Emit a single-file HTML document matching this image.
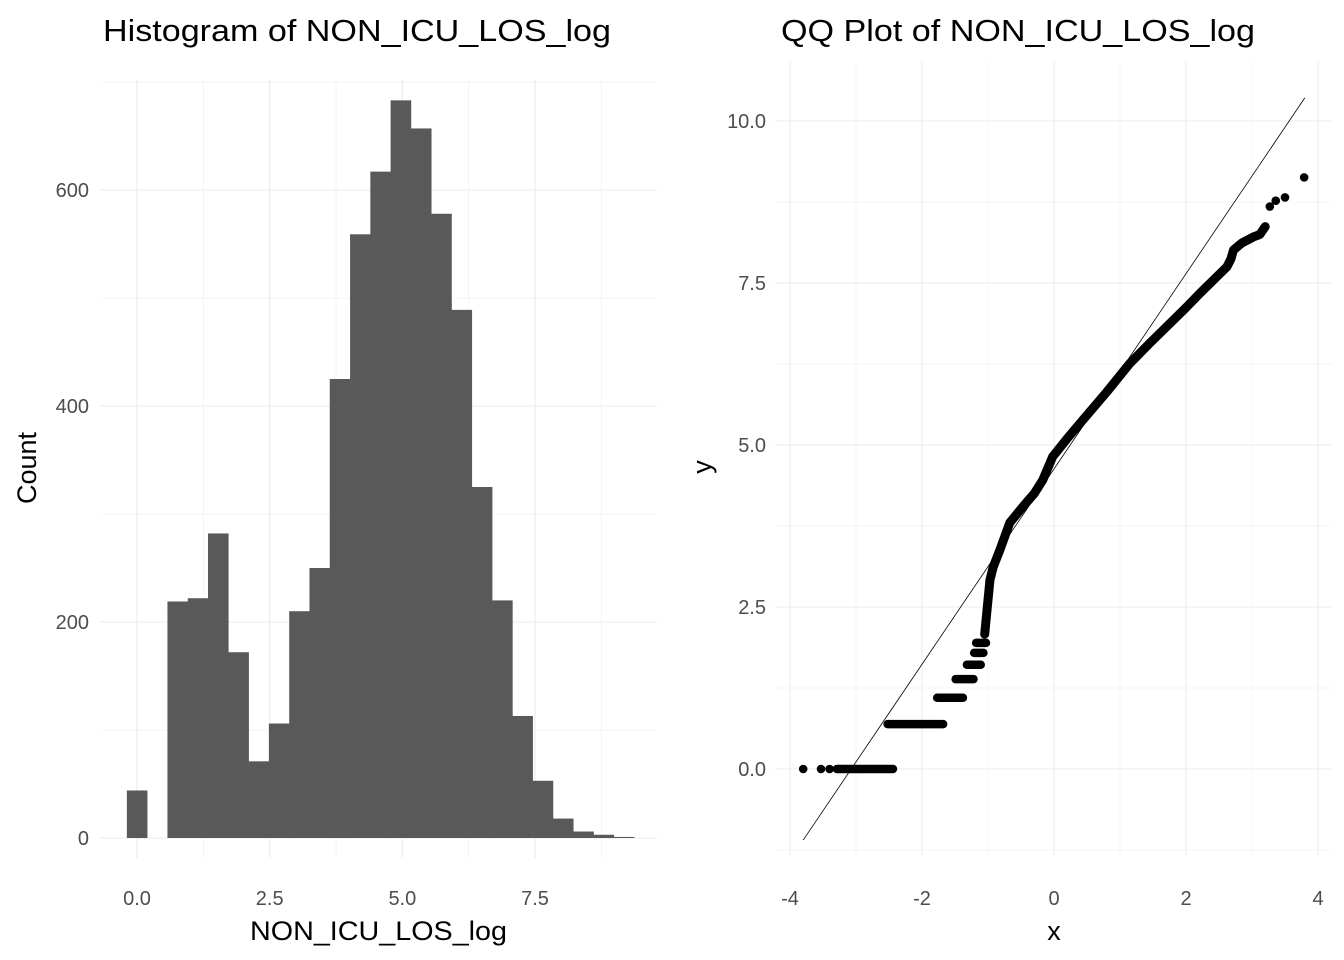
<!DOCTYPE html>
<html><head><meta charset="utf-8"><style>
body{margin:0;background:#fff;}
svg{display:block;font-family:"Liberation Sans",sans-serif;}
</style></head><body>
<svg id="c" width="1344" height="960" viewBox="0 0 1344 960">
<rect width="1344" height="960" fill="#fff"/>
<g id="h"></g><g id="q"></g>
</svg>
<script>
// Histogram data
const histCenters = [0,0.382,0.765,1.147,1.529,1.912,2.294,2.676,3.059,3.441,3.823,4.206,4.588,4.970,5.353,5.735,6.117,6.500,6.882,7.264,7.647,8.029,8.411,8.794,9.176];
const histCounts = [44,0,219,222,282,172,71,106,210,250,425,559,617,683,657,578,489,325,220,113,53,18,6,3,1];
const histBinWidth = 0.3823;
const histXTicks = [0,2.5,5,7.5];
const histXTickLabels = ["0.0","2.5","5.0","7.5"];
const histYTicks = [0,200,400,600];
// QQ data: tied runs (discrete values)
const runStartX = [-3.29,-2.52,-1.77,-1.49,-1.32,-1.21,-1.18];
const runEndX   = [-2.44,-1.68,-1.38,-1.22,-1.11,-1.07,-1.03];
const runY      = [0,0.693,1.099,1.386,1.609,1.792,1.946];
// QQ data: isolated points
const isoX = [-3.8,-3.53,-3.4,3.27,3.36,3.50,3.79];
const isoY = [0,0,0,8.68,8.77,8.82,9.13];
// QQ data: continuous sample quantiles
const qqX = [-1.05,-1.02,-0.97,-0.92,-0.82,-0.67,-0.47,-0.3,-0.17,-0.02,0.2,0.44,0.8,1.15,1.45,1.71,2.0,2.21,2.45,2.62,2.68,2.72,2.85,3.02,3.12,3.20];
const qqY = [2.08,2.40,2.92,3.12,3.38,3.80,4.05,4.25,4.46,4.82,5.1,5.39,5.82,6.26,6.57,6.83,7.12,7.34,7.58,7.75,7.87,8.01,8.12,8.21,8.25,8.37];
const qqXTicks = [-4,-2,0,2,4];
const qqYTicks = [0,2.5,5,7.5,10];
const qqYTickLabels = ["0.0","2.5","5.0","7.5","10.0"];
const qqLineSlope = 1.507, qqLineIntercept = 4.63;

const NS="http://www.w3.org/2000/svg";
function mk(p,t,a,txt){const e=document.createElementNS(NS,t);for(const k in a)e.setAttribute(k,a[k]);if(txt!==undefined)e.textContent=txt;p.appendChild(e);return e;}
const TICK={'font-size':'20',fill:'#4d4d4d'};

// Histogram
const hx=v=>137+v*53.07, hy=v=>838-v*1.08;
const H=document.getElementById('h');
const hL=100,hR=657,hT=80,hB=858;
for(let v=-1.25;v<=10;v+=1.25){const x=hx(v);if(x<hL||x>hR)continue;const l=mk(H,'line',{x1:x,x2:x,y1:hT,y2:hB,stroke:'#ebebeb','stroke-width':Math.abs(v/2.5-Math.round(v/2.5))<1e-6?1.1:0.55});}
for(let v=0;v<=700;v+=100){const y=hy(v);const l=mk(H,'line',{x1:hL,x2:hR,y1:y,y2:y,stroke:'#ebebeb','stroke-width':v%200===0?1.1:0.55});}
histCounts.forEach((c,i)=>{if(c<=0)return;const x0=hx(histCenters[i]-histBinWidth/2),x1=hx(histCenters[i]+histBinWidth/2);
const r=mk(H,'rect',{x:x0,y:hy(c),width:x1-x0+0.3,height:hy(0)-hy(c),fill:'#595959'});

});
histXTicks.forEach((v,i)=>{const t=mk(H,'text',Object.assign({x:hx(v),y:905,'text-anchor':'middle'},TICK),histXTickLabels[i]);});
histYTicks.forEach(v=>{const t=mk(H,'text',Object.assign({x:89,y:hy(v)+7,'text-anchor':'end'},TICK),String(v));});
let t;
t=mk(H,'text',{x:103,y:41,'font-size':'31',fill:'#000',textLength:508,lengthAdjust:'spacingAndGlyphs'},'Histogram of NON_ICU_LOS_log');
t=mk(H,'text',{x:250,y:940,'font-size':'27',fill:'#000',textLength:257,lengthAdjust:'spacingAndGlyphs'},'NON_ICU_LOS_log');
t=mk(H,'text',{x:0,y:0,'text-anchor':'middle','font-size':'27',fill:'#000',transform:'translate(36,468) rotate(-90)'},'Count');

// QQ
const qx=v=>1054+v*66, qy=v=>769-v*64.8;
const Q=document.getElementById('q');
const qL=775,qR=1332,qT=62,qB=855;
for(let v=-4;v<=4;v+=1){const x=qx(v);const l=mk(Q,'line',{x1:x,x2:x,y1:qT,y2:qB,stroke:'#ebebeb','stroke-width':v%2===0?1.1:0.55});}
for(let v=-1.25;v<=11.25;v+=1.25){const y=qy(v);if(y<qT||y>qB)continue;const l=mk(Q,'line',{x1:qL,x2:qR,y1:y,y2:y,stroke:'#ebebeb','stroke-width':Math.abs(v/2.5-Math.round(v/2.5))<1e-6?1.1:0.55});}
runY.forEach((y,i)=>{const s=mk(Q,'line',{x1:qx(runStartX[i]),x2:qx(runEndX[i]),y1:qy(y),y2:qy(y),stroke:'#000','stroke-width':8.5,'stroke-linecap':'round'});

});
const pts=qqX.map((x,i)=>qx(x)+','+qy(qqY[i])).join(' ');
const pl=mk(Q,'polyline',{points:pts,fill:'none',stroke:'#000','stroke-width':9,'stroke-linecap':'round','stroke-linejoin':'round'});


isoX.forEach((x,i)=>{const c=mk(Q,'circle',{cx:qx(x),cy:qy(isoY[i]),r:4.3,fill:'#000'});

});
const lx0=-3.8,lx1=3.8;
const ln=mk(Q,'line',{x1:qx(lx0),y1:qy(qqLineIntercept+qqLineSlope*lx0),x2:qx(lx1),y2:qy(qqLineIntercept+qqLineSlope*lx1),stroke:'#000','stroke-width':0.8});


qqXTicks.forEach(v=>{const t=mk(Q,'text',Object.assign({x:qx(v),y:905,'text-anchor':'middle'},TICK),String(v));});
qqYTicks.forEach((v,i)=>{const t=mk(Q,'text',Object.assign({x:766,y:qy(v)+7,'text-anchor':'end'},TICK),qqYTickLabels[i]);});
t=mk(Q,'text',{x:781,y:41,'font-size':'31',fill:'#000',textLength:474,lengthAdjust:'spacingAndGlyphs'},'QQ Plot of NON_ICU_LOS_log');
t=mk(Q,'text',{x:1054,y:940,'text-anchor':'middle','font-size':'27',fill:'#000'},'x');
t=mk(Q,'text',{x:0,y:0,'text-anchor':'middle','font-size':'27',fill:'#000',transform:'translate(711,467) rotate(-90)'},'y');
</script>
</body></html>
